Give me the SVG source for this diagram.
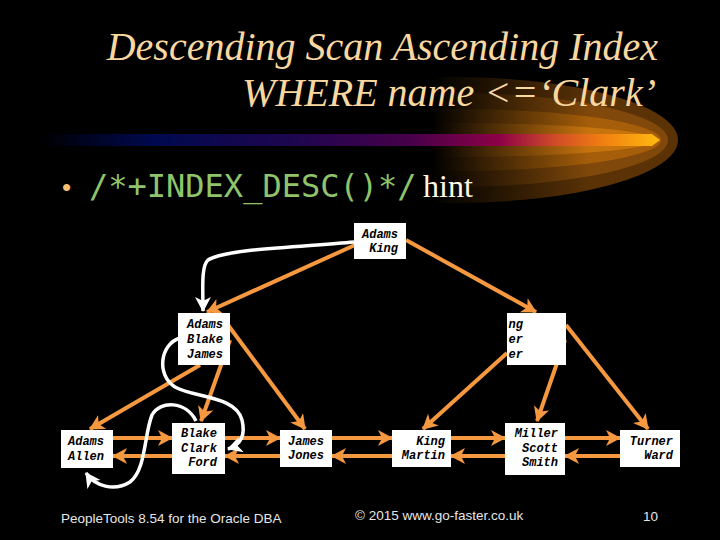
<svg xmlns="http://www.w3.org/2000/svg" width="720" height="540" viewBox="0 0 720 540">
<defs>
<style>
.title{font-family:"Liberation Serif",serif;font-style:italic;font-size:40px;fill:#f9d7a1}
.node rect{fill:#ffffff}
.node text{font-family:"Liberation Mono",monospace;font-style:italic;font-weight:bold;font-size:12px;fill:#000;text-anchor:end}
.o{stroke:#f5983f;stroke-width:4;fill:none;marker-end:url(#ah)}
.w{stroke:#ffffff;stroke-width:3.5;fill:none;marker-end:url(#wh)}
.foot{font-family:"Liberation Sans",Arial,sans-serif;font-size:13.5px;fill:#e6e6e6}
</style>
<marker id="ah" markerUnits="userSpaceOnUse" markerWidth="18" markerHeight="18" refX="14" refY="8" orient="auto">
<path d="M0,0 L15,8 L0,16 L4,8 Z" fill="#f5983f"/>
</marker>
<marker id="wh" markerUnits="userSpaceOnUse" markerWidth="18" markerHeight="18" refX="14" refY="8" orient="auto">
<path d="M0,0 L15,8 L0,16 L4,8 Z" fill="#ffffff"/>
</marker>
<linearGradient id="bar" gradientUnits="userSpaceOnUse" x1="40" y1="0" x2="660" y2="0">
<stop offset="0" stop-color="#000000"/>
<stop offset="0.18" stop-color="#00094e"/>
<stop offset="0.4" stop-color="#1c0650"/>
<stop offset="0.6" stop-color="#48004a"/>
<stop offset="0.74" stop-color="#8c0046"/>
<stop offset="0.83" stop-color="#d04a28"/>
<stop offset="0.91" stop-color="#f28010"/>
<stop offset="1" stop-color="#ffbb10"/>
</linearGradient>
<linearGradient id="fade" gradientUnits="userSpaceOnUse" x1="432" y1="0" x2="590" y2="0">
<stop offset="0" stop-color="#000" stop-opacity="1"/>
<stop offset="1" stop-color="#000" stop-opacity="0"/>
</linearGradient>
<clipPath id="glowclip"><rect x="432" y="60" width="288" height="160"/></clipPath>
</defs>
<rect x="0" y="0" width="720" height="540" fill="#000"/>
<g id="glow" clip-path="url(#glowclip)">
<ellipse cx="452" cy="140" rx="226" ry="63" fill="#5a3206"/>
<ellipse cx="452" cy="140" rx="216" ry="47" fill="#80480a"/>
<ellipse cx="452" cy="140" rx="209" ry="31" fill="#a65e0a"/>
<ellipse cx="452" cy="140" rx="204" ry="17" fill="#c8740e"/>
<rect x="430" y="70" width="170" height="140" fill="url(#fade)"/>
</g>
<polygon id="bar-shape" points="40,134 652,134 660,140 652,146 40,146" fill="url(#bar)"/>
<g id="title">
<text class="title" x="658" y="60" text-anchor="end">Descending Scan Ascending Index</text>
<text class="title" x="656" y="106" text-anchor="end">WHERE name &lt;=‘Clark’</text>
</g>
<g id="bullet">
<text x="62" y="196" font-family="Liberation Sans,sans-serif" font-size="26" fill="#f8c070">•</text>
<text x="89" y="197" font-family="DejaVu Sans Mono,monospace" font-size="32" fill="#8fc46a">/*+INDEX_DESC()*/</text>
<text x="423" y="197" font-family="Liberation Serif,serif" font-size="32" fill="#fffbe6">hint</text>
</g>
<g id="connectors">
<line class="o" x1="355" y1="245" x2="207" y2="312"/>
<line class="o" x1="406" y1="240" x2="536" y2="312"/>
<line class="o" x1="200" y1="365" x2="90" y2="429"/>
<line class="o" x1="230" y1="340" x2="201" y2="421"/>
<line class="o" x1="228" y1="325" x2="305" y2="429"/>
<line class="o" x1="507" y1="353" x2="423" y2="429"/>
<line class="o" x1="565" y1="340" x2="537" y2="421"/>
<line class="o" x1="566" y1="325" x2="648" y2="429"/>
<line class="o" x1="113" y1="438" x2="172" y2="438"/>
<line class="o" x1="225" y1="438" x2="280" y2="438"/>
<line class="o" x1="332" y1="438" x2="392" y2="438"/>
<line class="o" x1="451" y1="438" x2="505" y2="438"/>
<line class="o" x1="565" y1="438" x2="620" y2="438"/>
<line class="o" x1="172" y1="456" x2="113" y2="456"/>
<line class="o" x1="280" y1="456" x2="225" y2="456"/>
<line class="o" x1="392" y1="456" x2="332" y2="456"/>
<line class="o" x1="505" y1="456" x2="451" y2="456"/>
<line class="o" x1="620" y1="456" x2="565" y2="456"/>
<path class="w" d="M354,242 C300,247 225,249 208,260 C201,266 203,290 203,311"/>
<path class="w" d="M180,338 C160,344 156,375 175,387 C195,398 236,396 242,420 C246,436 240,445 228,449"/>
<path class="w" d="M196,421 C186,401 160,400 152,415 C144,435 146,470 130,482 C114,492 95,486 86,473"/>
</g>
<g id="n-root" class="node"><rect x="354" y="223" width="52" height="36"/><text x="398" y="238">Adams</text><text x="398" y="252">King</text></g>
<g id="n-left" class="node"><rect x="178" y="313" width="52" height="52"/><text x="223" y="328">Adams</text><text x="223" y="343">Blake</text><text x="223" y="358">James</text></g>
<g id="n-right" class="node"><rect x="507" y="313" width="59" height="52"/><text x="523" y="328">ng</text><text x="523" y="343">er</text><text x="523" y="358">er</text></g>
<g id="n-adams-allen" class="node"><rect x="61" y="430" width="52" height="38"/><text x="104" y="445">Adams</text><text x="104" y="460">Allen</text></g>
<g id="n-blake" class="node"><rect x="172" y="423" width="53" height="51"/><text x="217" y="437">Blake</text><text x="217" y="452">Clark</text><text x="217" y="466">Ford</text></g>
<g id="n-james" class="node"><rect x="280" y="430" width="52" height="37"/><text x="324" y="445">James</text><text x="324" y="459">Jones</text></g>
<g id="n-king" class="node"><rect x="392" y="430" width="59" height="37"/><text x="445" y="445">King</text><text x="445" y="459">Martin</text></g>
<g id="n-miller" class="node"><rect x="505" y="423" width="60" height="52"/><text x="558" y="437">Miller</text><text x="558" y="452">Scott</text><text x="558" y="466">Smith</text></g>
<g id="n-turner" class="node"><rect x="620" y="430" width="60" height="37"/><text x="673" y="445">Turner</text><text x="673" y="459">Ward</text></g>
<g id="footer">
<text class="foot" x="61" y="523">PeopleTools 8.54 for the Oracle DBA</text>
<text class="foot" x="355" y="520">© 2015 www.go-faster.co.uk</text>
<text class="foot" x="643" y="521">10</text>
</g>
</svg>
